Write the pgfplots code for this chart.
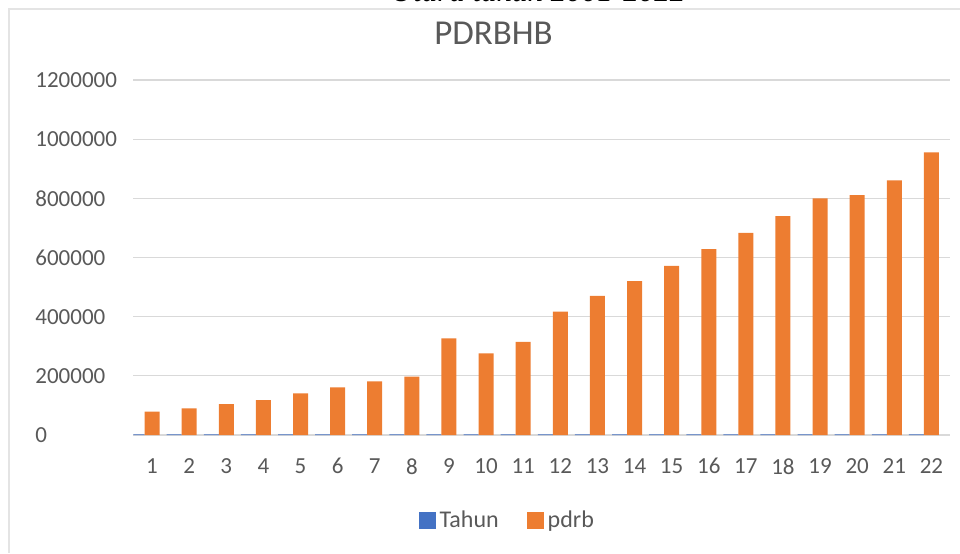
\documentclass[border=0pt]{standalone}
\usepackage{fontspec}
\setmainfont{Carlito}
\newfontfamily\tnr{Liberation Serif}
\usepackage{pgfplots}
\pgfplotsset{compat=1.18}
\definecolor{cOrange}{HTML}{ED7D31}
\definecolor{cBlue}{HTML}{4472C4}
\definecolor{cText}{HTML}{595959}
\definecolor{cGrid}{HTML}{D9D9D9}
\begin{document}
\begin{tikzpicture}
\useasboundingbox (0,0) rectangle (480pt,276.5pt);
\begin{scope}
\clip (0,0) rectangle (480pt,276.5pt);
\node[anchor=base, inner sep=0pt, font=\tnr\itshape\fontsize{15.5pt}{18pt}\selectfont] at (269pt,275.5pt) {Utara tahun 2001-2022};
\end{scope}
\draw[color=cGrid!70, line width=0.8pt] (4.5pt,0) -- (4.5pt,272pt) -- (480pt,272pt);
\node[anchor=base, inner sep=0pt, text=cText, font=\fontsize{17.5pt}{20pt}\selectfont] at (246.75pt,254pt) {PDRBHB};
\begin{axis}[
  at={(66.75pt,59pt)}, anchor=south west,
  scale only axis, width=408.25pt, height=177.5pt,
  xmin=0.5, xmax=22.5, ymin=0, ymax=1200000,
  ybar, bar width=7.5pt,
  xtick={1,...,22},
  xticklabels={1,2,3,4,5,6,7,8,9,10,11,12,13,14,15,16,17,18,19,20,21,22},
  ytick={0,200000,400000,600000,800000,1000000,1200000},
  yticklabels={0,200000,400000,600000,800000,1000000,1200000},
  ymajorgrids, grid style={cGrid, line width=0.6pt},
  axis line style={draw=none}, major tick length=0pt,
  scaled y ticks=false,
  yticklabel style={anchor=west, inner sep=0pt, xshift=-49.25pt, font=\fontsize{11.5pt}{13pt}\selectfont, text=cText},
  xticklabel style={anchor=north, inner sep=0pt, yshift=-11.5pt, font=\fontsize{11.5pt}{13pt}\selectfont, text=cText},
  legend columns=2,
  legend style={at={(0.459,-0.242)}, anchor=center, draw=none, fill=none,
    font=\fontsize{12pt}{13pt}\selectfont, text=cText,
    /tikz/every even column/.append style={column sep=12pt}},
  legend image code/.code={\fill[#1] (0pt,-4.25pt) rectangle (8.5pt,4.25pt);},
]
\addplot[fill=cBlue, draw=none, bar shift=-7.5pt] coordinates {
(1,2001) (2,2002) (3,2003) (4,2004) (5,2005) (6,2006) (7,2007) (8,2008)
(9,2009) (10,2010) (11,2011) (12,2012) (13,2013) (14,2014) (15,2015) (16,2016)
(17,2017) (18,2018) (19,2019) (20,2020) (21,2021) (22,2022)};
\addlegendentry{Tahun}
\addplot[fill=cOrange, draw=none, bar shift=0pt] coordinates {
(1,79000) (2,90000) (3,104000) (4,118000) (5,141000) (6,161000) (7,181000) (8,197000)
(9,327000) (10,276000) (11,315000) (12,417000) (13,470000) (14,520000) (15,572000) (16,628000)
(17,683000) (18,740000) (19,800000) (20,811000) (21,861000) (22,955000)};
\addlegendentry{pdrb}
\end{axis}
\end{tikzpicture}
\end{document}
